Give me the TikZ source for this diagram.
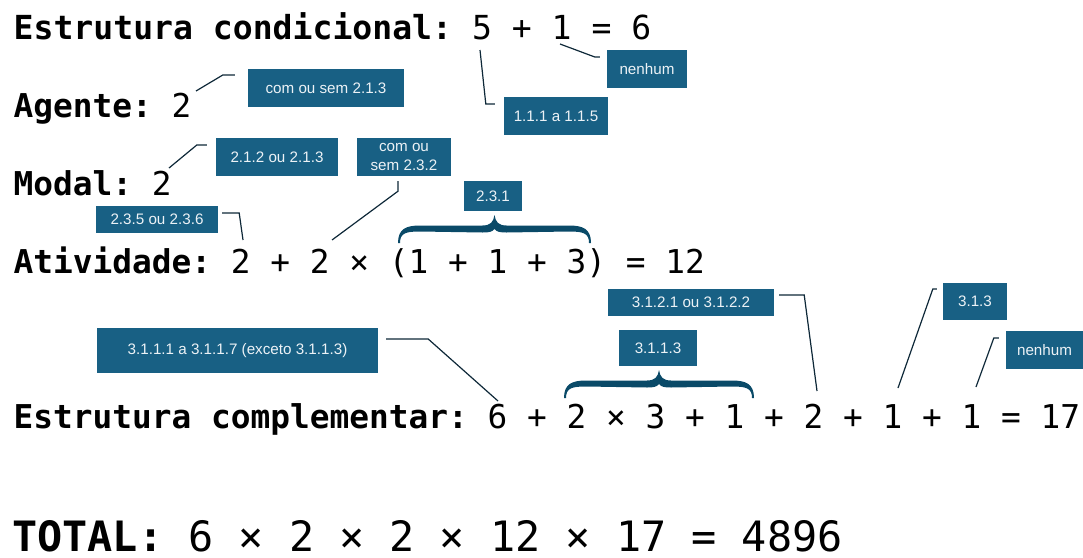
\documentclass[tikz,border=0pt]{standalone}
\usepackage{fontspec}
\setmainfont{Liberation Sans}
\setmonofont{DejaVu Sans Mono}
\usepackage{xcolor}
\usepackage{tikz}
\usetikzlibrary{calc}

\definecolor{tagblue}{RGB}{24,96,132}
\definecolor{tagtext}{RGB}{236,242,246}
\definecolor{leadcol}{RGB}{14,40,56}
\definecolor{bracecol}{RGB}{10,74,104}

\newcommand\tagfont{\fontsize{15.2}{19.5}\selectfont}
\newcommand\eqfont{\ttfamily\fontsize{32.8}{36}\selectfont}
\newcommand\totfont{\ttfamily\fontsize{41.8}{44}\selectfont}

%% filled curly brace: left x, right x, base y, height
\newcommand\wordbrace[4]{%
	\pgfmathsetmacro\bL{#1}\pgfmathsetmacro\bR{#2}%
	\pgfmathsetmacro\bM{(#1+#2)/2}\pgfmathsetmacro\bB{#3}%
	\pgfmathsetmacro\bT{#3-#4}\pgfmathsetmacro\bC{#3-0.5*#4}%
	\fill[bracecol]
	(\bL,\bB) .. controls (\bL,\bC) and (\bL+8,\bC-3.5) .. (\bL+22,\bC-3.5)
	-- (\bM-12,\bC-3.5) .. controls (\bM-4,\bC-3.5) and (\bM-1,\bC-7) .. (\bM,\bT)
	.. controls (\bM+1,\bC-7) and (\bM+4,\bC-3.5) .. (\bM+12,\bC-3.5)
	-- (\bR-22,\bC-3.5) .. controls (\bR-8,\bC-3.5) and (\bR,\bC) .. (\bR,\bB)
	-- (\bR-2,\bB) .. controls (\bR-2,\bC+4) and (\bR-8,\bC+2.5) .. (\bR-22,\bC+2.5)
	-- (\bM+12,\bC+3.5) .. controls (\bM+6,\bC+3.5) and (\bM+2,\bC+3) .. (\bM,\bC)
	.. controls (\bM-2,\bC+3) and (\bM-6,\bC+3.5) .. (\bM-12,\bC+3.5)
	-- (\bL+22,\bC+2.5) .. controls (\bL+8,\bC+2.5) and (\bL+2,\bC+4) .. (\bL+2,\bB)
	-- cycle;}

\tikzset{
	tag/.style={fill=tagblue, text=tagtext, font=\tagfont, align=center, inner sep=0pt},
	leader/.style={draw=leadcol, line width=1.2pt},
	eqline/.style={anchor=base west, inner sep=0pt}
}

\begin{document}
\begin{tikzpicture}[x=1pt, y=-1pt]
	
	\useasboundingbox (0,0) rectangle (1083,557);
	
	%% -- Equation lines
	\node[eqline, font=\ttfamily\fontsize{33.1}{36}\selectfont] (cond) at (13.5,39)
	{\textbf{Estrutura condicional:} 5 + 1 = 6};
	\node[eqline, font=\eqfont] (agen) at (13.5,117)
	{\textbf{Agente:} 2};
	\node[eqline, font=\eqfont] (moda) at (13.5,195)
	{\textbf{Modal:} 2};
	\node[eqline, font=\eqfont] (ativ) at (13.5,273)
	{\textbf{Atividade:} 2 + 2 × (1 + 1 + 3) = 12};
	\node[eqline, font=\eqfont] (comp) at (13.5,428)
	{\textbf{Estrutura complementar:} 6 + 2 × 3 + 1 + 2 + 1 + 1 = 17};
	\node[eqline, font=\totfont] (total) at (12,551)
	{\textbf{TOTAL:} 6 × 2 × 2 × 12 × 17 = 4896};
	
	%% -- Tags, first block
	\node[tag, minimum width=80pt, minimum height=38pt] (nenhumA) at (647,69) {nenhum};
	\node[tag, minimum width=104pt, minimum height=38pt] (faixaA) at (556,116) {1.1.1 a 1.1.5};
	\node[tag, minimum width=156pt, minimum height=38pt] (semA) at (326,88) {com ou sem 2.1.3};
	\node[tag, minimum width=122pt, minimum height=38pt] (ouA) at (277,157) {2.1.2 ou 2.1.3};
	\node[tag, minimum width=94pt, minimum height=38pt] (semB) at (404,157) {com ou\\sem 2.3.2};
	\node[tag, minimum width=58pt, minimum height=30pt] (grupoA) at (493,196) {2.3.1};
	\node[tag, minimum width=122pt, minimum height=27pt] (ouB) at (157,219.5) {2.3.5 ou 2.3.6};
	
	%% -- Tags, complementar block
	\node[tag, minimum width=281pt, minimum height=45pt] (faixaB) at (237.5,350.5)
	{3.1.1.1 a 3.1.1.7 (exceto 3.1.1.3)};
	\node[tag, minimum width=78pt, minimum height=36pt] (grupoB) at (658,348) {3.1.1.3};
	\node[tag, minimum width=166pt, minimum height=27pt] (ouC) at (691,302.5) {3.1.2.1 ou 3.1.2.2};
	\node[tag, minimum width=64pt, minimum height=37pt] (umC) at (975,301.5) {3.1.3};
	\node[tag, minimum width=77pt, minimum height=38pt] (nenhumB) at (1044.5,350) {nenhum};
	
	%% -- Points on the figures
	\coordinate (c5)   at (480,50);
	\coordinate (c1)   at (560,44);
	\coordinate (cAg)  at (196,91);
	\coordinate (cMo)  at (169,168);
	\coordinate (cAt1) at (243,240);
	\coordinate (cAt2) at (332,240);
	\coordinate (cCo6) at (498,401);
	\coordinate (cCo2) at (817,391);
	\coordinate (cCoA) at (898,388);
	\coordinate (cCoB) at (976,387);
	
	%% -- Leader lines
	\draw[leader] ([xshift=-9pt, yshift=12pt]faixaA.west) -- ++(-9,0) -- (c5);
	\draw[leader] ([xshift=-7pt, yshift=12pt]nenhumA.west) -- ++(-5,0) -- (c1);
	\draw[leader] ([xshift=-13pt, yshift=13pt]semA.west) -- ++(-12,0) -- (cAg);
	\draw[leader] ([xshift=-9pt, yshift=12pt]ouA.west) -- ++(-10,0) -- (cMo);
	\draw[leader] ([xshift=4pt, yshift=6.5pt]ouB.east) -- ++(17,0) -- (cAt1);
	\draw[leader] ([xshift=-6pt, yshift=-5pt]semB.south) -- ++(0,10) -- (cAt2);
	\draw[leader] ([xshift=8pt, yshift=11.5pt]faixaB.east) -- ++(42,0) -- (cCo6);
	\draw[leader] ([xshift=5pt, yshift=7.5pt]ouC.east) -- ++(25,0) -- (cCo2);
	\draw[leader] ([xshift=-6pt, yshift=12.5pt]umC.west) -- ++(-4,0) -- (cCoA);
	\draw[leader] ([xshift=-7pt, yshift=12pt]nenhumB.west) -- ++(-5,0) -- (cCoB);
	
	%% -- Braces over the grouped terms
	\wordbrace{398}{591}{243}{28}
	\wordbrace{564}{754}{398}{28}
	
\end{tikzpicture}
\end{document}
